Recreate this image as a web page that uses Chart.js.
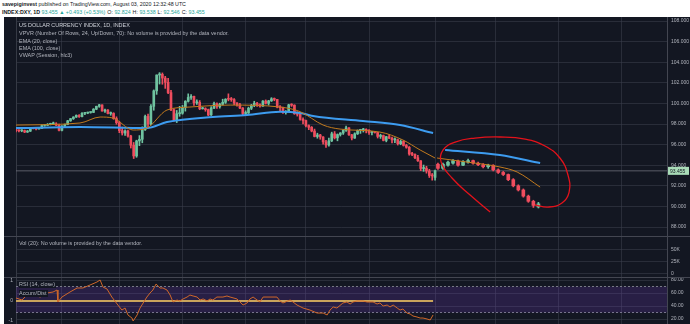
<!DOCTYPE html>
<html>
<head>
<meta charset="utf-8">
<script src="https://cdn.jsdelivr.net/npm/chart.js@4.4.0/dist/chart.umd.min.js"></script>
<style>
  body { margin: 0; width: 690px; height: 324px; overflow: hidden; background: #fff; position: relative;
         font-family: "Liberation Sans", Arial, sans-serif; }
  .head { position: absolute; left: 2px; font-size: 5.3px; line-height: 7px; color: #131722; white-space: nowrap; }
  .head .up { color: #26a69a; }
  .head .gap { margin-left: 2px; }
  #dark { position: absolute; left: 4px; top: 17px; width: 686px; height: 307px; background: #131722; }
  canvas { position: absolute; left: 4px; }
  .sep { position: absolute; left: 4px; width: 686px; height: 1px; background: #434651; }
  .lbl { position: absolute; left: 19px; font-size: 5.45px; line-height: 7px; color: #b2b5be; white-space: nowrap; }
  .lbl.box { background: #131722; padding-right: 1px; }
</style>
</head>
<body>
<div class="head" style="top:1px"><b>savepiginvest</b> published on TradingView.com, August 03, 2020 12:32:48 UTC</div>
<div class="head" style="top:9px"><b>INDEX:DXY, 1D</b> <span class="up">93.455 &#9650; +0.493 (+0.53%)</span><span class="gap">O:</span> <span class="up">92.824</span><span class="gap">H:</span> <span class="up">93.538</span><span class="gap">L:</span> <span class="up">92.546</span><span class="gap">C:</span> <span class="up">93.455</span></div>
<div id="dark"></div>
<canvas id="main" width="686" height="219" style="top:17px"></canvas>
<div class="sep" style="top:236px"></div>
<canvas id="vol" width="686" height="40" style="top:237px"></canvas>
<div class="sep" style="top:277px"></div>
<canvas id="rsi" width="686" height="46" style="top:278px"></canvas>

<div class="lbl" style="top:22px;color:#d1d4dc">US DOLLAR CURRENCY INDEX, 1D, INDEX</div>
<div class="lbl" style="top:30px">VPVR (Number Of Rows, 24, Up/Down, 70): No volume is provided by the data vendor.</div>
<div class="lbl" style="top:38px">EMA (20, close)</div>
<div class="lbl" style="top:45px">EMA (100, close)</div>
<div class="lbl" style="top:52px">VWAP (Session, hlc3)</div>
<div class="lbl" style="top:240px">Vol (20): No volume is provided by the data vendor.</div>
<div class="lbl box" style="top:281px">RSI (14, close)</div>
<div class="lbl box" style="top:290px">Accum/Dist</div>

<script>
// daily candles, 10 Jan 2020 .. 3 Aug 2020 (x = trading day index)
const opens = [
  97.46,97.36,97.34,97.37,97.22,97.31,97.61,97.55,97.52,97.58,
  97.86,97.87,97.97,98.01,98.02,97.88,97.39,97.80,97.97,98.31,
  98.52,98.68,98.84,98.72,99.04,99.06,99.12,99.13,99.44,99.72,
  99.86,99.26,99.36,99.02,99.03,98.53,98.13,97.36,97.13,97.33,
  96.84,95.94,94.90,96.36,96.52,97.44,98.74,98.00,99.72,101.22,
  102.76,102.82,102.46,102.05,101.05,99.38,98.37,99.00,99.05,99.61,
  100.21,100.58,100.69,100.06,100.10,99.48,99.49,99.40,98.88,99.55,
  99.98,99.70,99.91,100.11,100.41,100.40,100.37,100.04,99.86,99.55,
  99.02,99.07,99.53,99.80,100.02,99.88,99.74,100.23,100.01,100.25,
  100.45,100.39,99.64,99.59,99.10,99.22,99.86,99.83,99.00,98.95,
  98.45,98.34,97.85,97.68,97.32,96.79,96.94,96.74,96.27,95.97,
  96.37,97.05,96.66,96.98,97.13,97.39,97.63,96.95,96.64,97.05,
  97.39,97.43,97.46,97.39,97.17,97.23,97.18,96.80,96.88,96.41,
  96.77,96.63,96.46,96.48,96.09,96.31,95.92,95.74,95.09,95.05,
  94.73,94.43,93.68,93.71,93.44,93.00,92.82
];
const highs = [
  97.53,97.44,97.45,97.42,97.38,97.66,97.64,97.60,97.63,97.93,
  97.96,98.05,98.08,98.19,98.13,98.00,97.86,98.00,98.36,98.55,
  98.71,98.89,98.91,99.10,99.13,99.16,99.18,99.50,99.74,99.91,
  99.87,99.44,99.41,99.17,99.10,98.70,98.27,97.70,97.44,97.42,
  96.91,96.21,96.43,96.88,97.73,98.87,98.97,99.88,101.31,102.77,
  102.99,102.96,102.63,102.43,101.27,99.48,99.32,99.72,99.81,100.27,
  100.93,100.87,100.72,100.35,100.28,99.62,99.58,99.45,99.69,100.13,
  100.06,100.02,100.41,100.46,100.93,100.58,100.48,100.08,100.02,99.60,
  99.28,99.64,99.91,100.21,100.10,99.96,100.28,100.34,100.30,100.56,
  100.53,100.40,99.79,99.64,99.31,99.92,99.97,99.87,99.20,99.11,
  98.59,98.39,97.92,97.76,97.51,97.11,97.00,96.77,96.42,96.63,
  97.21,97.27,97.04,97.17,97.45,97.79,97.66,97.01,97.15,97.43,
  97.49,97.58,97.54,97.45,97.29,97.29,97.20,97.01,96.93,96.80,
  96.97,96.73,96.66,96.54,96.46,96.38,96.02,95.82,95.26,95.11,
  94.96,94.45,94.02,93.90,93.60,93.20,93.538
];
const lows = [
  97.23,97.23,97.25,97.16,97.18,97.27,97.52,97.44,97.50,97.55,
  97.78,97.85,97.91,97.94,97.84,97.33,97.34,97.73,97.93,98.26,
  98.44,98.63,98.64,98.70,98.92,99.00,99.05,99.10,99.39,99.62,
  99.24,99.13,98.97,98.85,98.46,97.98,97.16,96.93,96.89,96.73,
  95.67,94.65,94.77,95.90,96.18,97.38,97.60,97.92,99.34,100.88,
  101.88,101.86,101.46,100.94,99.30,98.27,98.14,98.75,98.95,99.25,
  100.13,100.40,99.80,99.90,99.39,99.45,99.24,98.81,98.83,99.49,
  99.52,99.54,99.85,100.00,100.25,100.20,99.89,99.73,99.49,98.82,
  98.85,99.02,99.40,99.68,99.70,99.64,99.70,99.94,99.84,100.19,
  100.26,99.57,99.30,99.03,98.96,99.17,99.71,98.94,98.77,98.37,
  98.02,97.73,97.45,97.24,96.75,96.62,96.52,96.05,95.72,95.86,
  96.29,96.55,96.37,96.83,96.99,97.28,96.90,96.46,96.60,96.98,
  97.09,97.22,97.14,97.00,96.95,97.12,96.64,96.60,96.36,96.27,
  96.57,96.16,96.18,95.96,95.99,95.86,95.65,94.97,94.92,94.63,
  94.37,93.47,93.41,93.23,92.81,92.55,92.546
];
const closes = [
  97.36,97.34,97.37,97.22,97.31,97.61,97.55,97.52,97.58,97.86,
  97.87,97.97,98.01,98.02,97.88,97.39,97.80,97.97,98.31,98.52,
  98.68,98.84,98.72,99.04,99.06,99.12,99.13,99.44,99.72,99.86,
  99.26,99.36,99.02,99.03,98.53,98.13,97.36,97.13,97.33,96.84,
  95.94,94.90,96.36,96.52,97.44,98.74,98.00,99.72,101.22,102.76,
  102.82,102.46,102.05,101.05,99.38,98.37,99.00,99.05,99.61,100.21,
  100.58,100.69,100.06,100.10,99.48,99.49,99.40,98.88,99.55,99.98,
  99.70,99.91,100.11,100.41,100.40,100.37,100.04,99.86,99.55,99.02,
  99.07,99.53,99.80,100.02,99.88,99.74,100.23,100.01,100.25,100.45,
  100.39,99.64,99.59,99.10,99.22,99.86,99.83,99.00,98.95,98.45,
  98.34,97.85,97.68,97.32,96.79,96.94,96.74,96.27,95.97,96.37,
  97.05,96.66,96.98,97.13,97.39,97.63,96.95,96.64,97.05,97.39,
  97.43,97.46,97.39,97.17,97.23,97.18,96.80,96.88,96.41,96.77,
  96.63,96.46,96.48,96.09,96.31,95.92,95.74,95.09,95.05,94.73,
  94.43,93.68,93.71,93.44,93.00,92.96,93.455
];
const days = closes.map((_, i) => i);

// pasted-in later view (inside the red circle)
const laterX     = [147,148.75,150.5,152.25,154,155.75,157.5,159.25,161,162.75,164.5,166.25,168,169.75,171.5,173.25,175,176.75,178.5,180.25,182];
const laterOpen  = [94.1,93.7,94.0,94.2,94.4,94.0,94.3,94.45,94.2,94.05,93.85,94.0,93.55,93.3,93.1,92.6,92.0,91.6,91.0,90.5,89.95];
const laterHigh  = [94.2,94.2,94.4,94.55,94.5,94.45,94.6,94.5,94.3,94.15,94.1,94.05,93.65,93.4,93.15,92.7,92.1,91.7,91.1,90.6,90.4];
const laterLow   = [93.6,93.6,93.9,94.1,93.9,93.95,94.2,94.1,93.95,93.75,93.7,93.45,93.2,93.0,92.5,91.9,91.5,90.9,90.4,89.9,89.85];
const laterClose = [93.7,94.1,94.3,94.45,94.0,94.35,94.45,94.2,94.05,93.85,94.0,93.55,93.3,93.1,92.6,92.0,91.6,91.0,90.5,90.1,90.25];

// moving averages
const ema20X  = [0,22.3,29.3,33.8,40.8,45.6,52.6,60.6,74.6,92,99,107,112.9,126.8,134.8,140.8,146];
const ema20Y  = [97.9,98.1,98.68,98.58,97.42,97.61,99.36,99.65,99.84,99.65,99.2,97.9,97.51,97.22,96.45,95.48,94.7];
const ema100X = [0,22.3,45.6,52.6,68.6,80.5,92,99,103.5,120.9,133.8,145.3];
const ema100Y = [97.61,97.71,97.61,98.19,98.68,98.87,99.2,99.07,98.78,98.29,97.9,97.13];
const laterEma20X  = [146.7,157.1,168.6,174.6,182.6];
const laterEma20Y  = [94.7,94.31,93.83,93.34,91.88];
const laterEma100X = [149.5,168.6,182.6];
const laterEma100Y = [95.48,94.99,94.21];

// hand-drawn red loop
const loopX = [165.2,158.2,151.9,148.1,148.8,153,159.9,168.6,177.4,184.3,189.5,192.3,192.7,190.2,185.4,180.8];
const loopY = [89.46,91.11,92.76,94.31,95.48,96.25,96.64,96.74,96.54,95.87,94.7,93.05,91.4,90.33,89.94,90.14];

// RSI (14) and Accum/Dist
const rsiX = [0,2.1,3.8,5.9,8.4,10.8,12.9,14.3,14.6,16,18.8,21.3,23.3,25.8,28.2,29.3,30.3,31.7,33.4,35.5,
  36.9,38,39,40.4,40.8,42.2,43.2,44.3,45.6,46.7,47.7,48.8,50.2,51.2,52.6,53.7,54.7,56.1,57.1,58.2,
  59.6,60.6,61.7,63.1,64.1,65.2,66.6,67.6,68.6,70,71.1,72.1,73.5,74.6,77,79.1,80.5,81.5,82.6,84,
  85,86.1,88.5,90.9,92,93,95.5,96.5,97.9,100,102.4,104.9,107,108.4,109.4,110.5,111.8,113.9,115.3,116.4,
  117.4,118.8,120.9,122.3,124.4,125.8,126.8,127.9,129.3,130.3,131.4,132.8,133.8,134.8,136.2,137.3,138.3,139.7,140.8,141.8,
  143.2,144.3,145.3];
const rsiValues = [52.3,49.2,56.9,58.5,53.8,60,61.5,64.6,46.2,53.8,61.5,67.7,67.7,72.3,76.9,80,69.2,66.2,53.8,41.5,
  33.8,36.9,26.2,21.5,16.9,26.2,36.9,44.6,53.8,60,64.6,73.8,67.7,67.7,64.6,56.9,46.2,49.2,47.7,50.8,
  53.8,56.9,55.4,53.8,49.2,50.8,47.7,50.8,49.2,53.8,53.8,53.8,55.4,53.8,50.8,41.5,44.6,50.8,53.8,49.2,
  46.2,53.8,53.8,53.8,47.7,44.6,49.2,46.2,41.5,36.9,33.8,29.2,29.2,26.2,33.8,38.5,36.9,44.6,46.2,43.1,
  46.2,47.7,47.7,46.2,46.2,43.1,44.6,40,41.5,38.5,41.5,36.9,33.8,35.4,29.2,27.7,24.6,23.1,21.5,21.5,
  20,18.5,26.2];
const rsiBands = [70, 30];
const adX = [0, 145.3];
const adValues = [0, 0];

// scales
const monthStarts = [16, 36, 58, 80, 101, 123, 146, 167, 189, 211];
const priceTicks = [88, 90, 92, 94, 96, 98, 100, 102, 104, 106, 108];
const volTicks = [0, 25000, 50000];
const rsiTicks = [20, 40, 60, 80];
const adTicks = [-1, 0, 1];
const lastPrice = 93.455;
const xMax = 226.8;

const GREEN = '#6fc3a0', RED = '#ef4d5e';
const GRID = 'rgba(60,64,76,0.55)';
const TXT = '#b2b5be';
const FONT = {family: '"Liberation Sans", Arial, sans-serif', size: 5};

Chart.defaults.animation = false;
Chart.defaults.plugins.legend.display = false;
Chart.defaults.plugins.tooltip.enabled = false;
Chart.defaults.font = FONT;
Chart.defaults.color = TXT;

const xScale = () => ({
  type: 'linear', min: 0, max: xMax, offset: false,
  grid: {color: GRID, drawTicks: false, offset: false},
  ticks: {display: false},
  border: {display: false},
  afterBuildTicks: a => { a.ticks = monthStarts.map(v => ({value: v})); },
  afterFit: s => { s.height = 0; s.paddingLeft = 0; s.paddingRight = 0; }
});
const rightAxis = (min, max, ticks, fmt) => ({
  position: 'right', min: min, max: max,
  grid: {color: GRID, drawTicks: false},
  border: {color: '#434651'},
  ticks: {padding: 4, color: TXT, callback: fmt},
  afterBuildTicks: a => { a.ticks = ticks.map(v => ({value: v})); },
  afterFit: s => { s.width = 23; s.paddingTop = 0; s.paddingBottom = 0; }
});
const leftAxis = (min, max, ticks) => ({
  position: 'left', min: min, max: max,
  grid: {display: false, drawTicks: false},
  border: {color: '#363a45'},
  ticks: {display: ticks.length > 0, padding: 3, color: TXT},
  afterBuildTicks: a => { a.ticks = ticks.map(v => ({value: v})); },
  afterFit: s => { s.width = 12; s.paddingTop = 0; s.paddingBottom = 0; }
});

const pts = (xs, ys) => xs.map((x, i) => ({x: x, y: ys[i]}));
const colorOf = (o, c) => o.map((v, i) => (c[i] >= v ? GREEN : RED));

function candles(x, o, h, l, c, bodyW) {
  const col = colorOf(o, c);
  return [
    {type: 'bar', data: x.map((v, i) => ({x: v, y: [l[i], h[i]]})), backgroundColor: col,
     barThickness: 1, grouped: false, order: 4},
    {type: 'bar', data: x.map((v, i) => ({x: v, y: [o[i], c[i]]})), backgroundColor: col,
     barThickness: bodyW, minBarLength: 1, grouped: false, order: 3}
  ];
}
const line = (data, color, width, order, extra) => Object.assign({
  type: 'line', data: data, borderColor: color, borderWidth: width,
  pointRadius: 0, fill: false, order: order, cubicInterpolationMode: 'monotone'
}, extra || {});

const lastPriceTag = {
  id: 'lastPriceTag',
  afterDraw(chart) {
    const {ctx, chartArea, scales} = chart;
    const y = scales.y.getPixelForValue(lastPrice);
    ctx.save();
    ctx.fillStyle = '#a9dcb8';
    ctx.fillRect(chartArea.right + 1, y - 4, 21, 8);
    ctx.fillStyle = '#131722';
    ctx.font = '5px "Liberation Sans", Arial, sans-serif';
    ctx.textBaseline = 'middle';
    ctx.fillText(lastPrice.toFixed(3), chartArea.right + 3, y + 0.5);
    ctx.restore();
  }
};

new Chart(document.getElementById('main'), {
  type: 'bar',
  data: {
    datasets: [
      ...candles(days, opens, highs, lows, closes, 2),
      ...candles(laterX, laterOpen, laterHigh, laterLow, laterClose, 3),
      line(pts(ema20X, ema20Y), '#c27a1e', 1, 1),
      line(pts(ema100X, ema100Y), '#3d9cf0', 2, 1),
      line(pts(laterEma20X, laterEma20Y), '#c27a1e', 1, 1),
      line(pts(laterEma100X, laterEma100Y), '#3d9cf0', 2, 1),
      line([{x: 0, y: lastPrice}, {x: xMax, y: lastPrice}], 'rgba(120,123,134,0.7)', 1, 5),
      line(pts(loopX, loopY), '#e3121b', 1.3, 0, {cubicInterpolationMode: 'default', tension: 0.45})
    ]
  },
  options: {
    responsive: false,
    layout: {padding: 0},
    scales: {
      x: xScale(),
      y: rightAxis(87.13, 108.39, priceTicks, v => v.toFixed(3)),
      yl: leftAxis(0, 1, [])
    }
  },
  plugins: [lastPriceTag]
});

new Chart(document.getElementById('vol'), {
  type: 'line',
  data: {datasets: []},
  options: {
    responsive: false,
    layout: {padding: 0},
    scales: {
      x: xScale(),
      y: rightAxis(-6250, 77083, volTicks, v => (v === 0 ? '0' : v / 1000 + 'K')),
      yl: leftAxis(0, 1, [])
    }
  }
});

new Chart(document.getElementById('rsi'), {
  type: 'line',
  data: {
    datasets: [
      line([{x: 0, y: rsiBands[0]}, {x: xMax, y: rsiBands[0]}], '#787b86', 1, 6,
           {borderDash: [2, 2], fill: '+1', backgroundColor: 'rgba(118,62,196,0.22)'}),
      line([{x: 0, y: rsiBands[1]}, {x: xMax, y: rsiBands[1]}], '#787b86', 1, 6, {borderDash: [2, 2]}),
      line(pts(adX, adValues), '#c9a45c', 2, 2, {yAxisID: 'yl'}),
      line(pts(rsiX, rsiValues), '#d0682a', 1, 1, {cubicInterpolationMode: 'default', tension: 0})
    ]
  },
  options: {
    responsive: false,
    layout: {padding: 0},
    scales: {
      x: xScale(),
      y: rightAxis(12.31, 83.08, rsiTicks, v => v.toFixed(2)),
      yl: leftAxis(-1.15, 1.15, adTicks)
    }
  }
});
</script>
</body>
</html>
